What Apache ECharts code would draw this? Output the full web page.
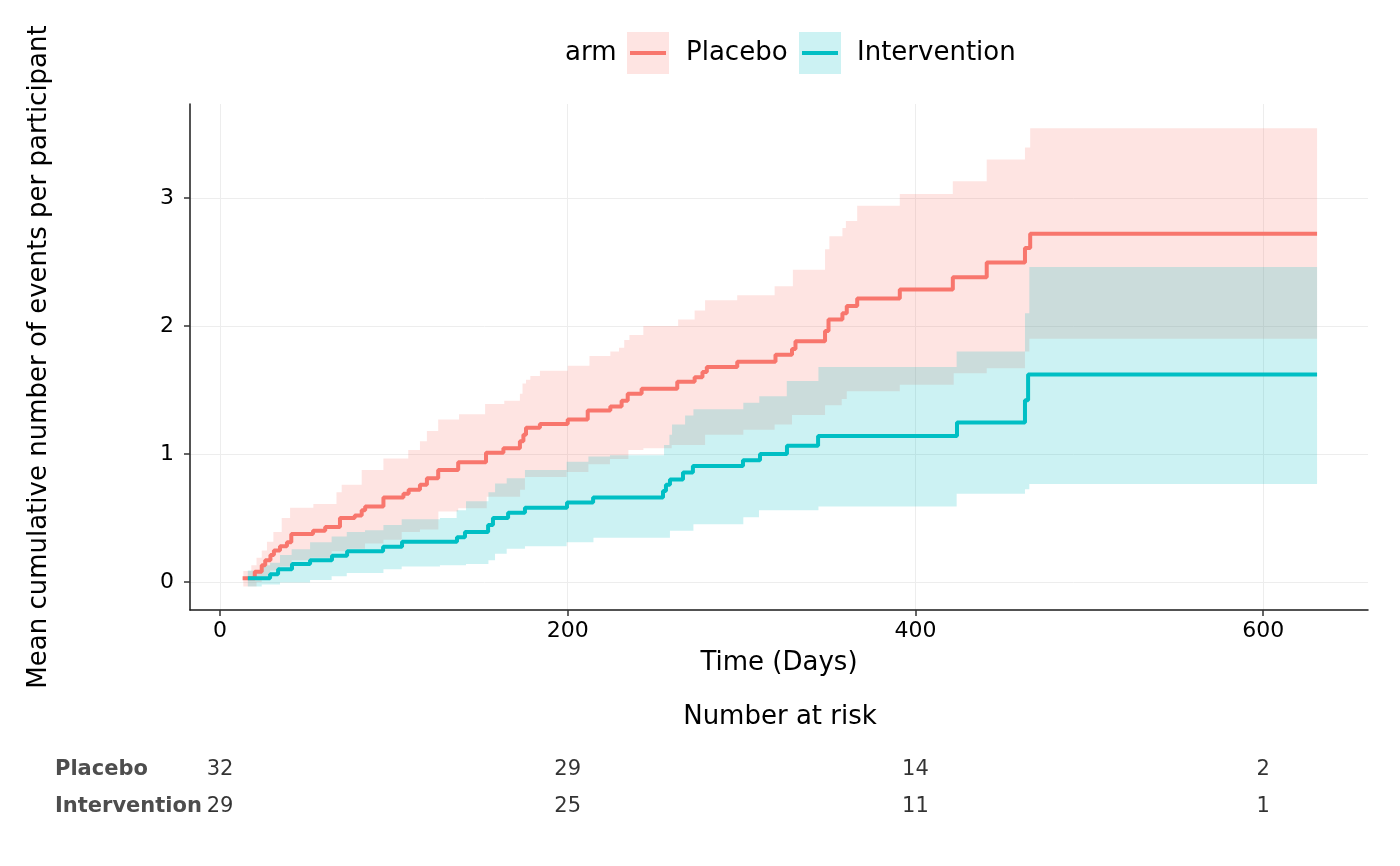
<!DOCTYPE html>
<html>
<head>
<meta charset="utf-8">
<script src="https://cdn.jsdelivr.net/npm/echarts@6/dist/echarts.min.js"></script>
<style>
html,body{margin:0;padding:0;background:#ffffff;}
#chart{width:1400px;height:866px;}
</style>
</head>
<body>
<div id="chart"></div>
<script>
// ---------- data ----------
const endTime = 631;

const placeboTime = [13,20,24,26,29,31,34.5,38.5,41,53.5,60.5,69,77.5,81.5,83.5,94,105.5,108.5,115,119,125.5,137,153,163,172.5,174.5,176,184,200,211.5,224.5,231,234.5,242.5,263,273,277.5,280,297.5,319.5,329,331,348,350,358,360.5,366.5,391,421.5,441,463,466];
const placeboMean = [0.03,0.08,0.13,0.17,0.21,0.245,0.28,0.31,0.375,0.40,0.43,0.50,0.52,0.56,0.59,0.66,0.69,0.72,0.76,0.81,0.875,0.935,1.01,1.045,1.10,1.15,1.205,1.235,1.27,1.34,1.37,1.415,1.47,1.51,1.565,1.60,1.64,1.68,1.72,1.775,1.82,1.88,1.96,2.05,2.10,2.155,2.215,2.285,2.38,2.495,2.61,2.72];

const placeboUpperTime = [13.4,18,21,24,27,30.7,35.5,40.3,53.7,67,70,81.5,94,108.3,115,119,125.5,137.5,152.5,163.5,172.5,174,176,178.5,184,200,212.5,224.5,229.5,232.5,235.5,243.5,263.5,273,279,297.5,319,329.5,348,350.5,358,360,366.5,391,421.5,441,463,466];
const placeboUpper = [0.085,0.13,0.19,0.245,0.315,0.39,0.50,0.58,0.61,0.70,0.76,0.875,0.965,1.03,1.10,1.18,1.27,1.31,1.39,1.415,1.47,1.55,1.58,1.61,1.65,1.69,1.765,1.80,1.83,1.89,1.93,2.0,2.05,2.12,2.20,2.24,2.31,2.44,2.60,2.70,2.765,2.82,2.94,3.03,3.13,3.30,3.395,3.545];

const placeboLowerTime = [13.4,21,24,28.8,34.5,41.2,51.8,64.2,72.9,83.4,94,104.5,115,125.6,137,153.4,172.6,175.4,199.4,211.9,224.3,234.9,243.5,259.8,279,301,319,329,348,357.6,360.5,391,422,441,463,465.5];
const placeboLower = [-0.035,0.0,0.04,0.09,0.12,0.17,0.19,0.24,0.26,0.30,0.33,0.39,0.41,0.55,0.575,0.665,0.72,0.82,0.86,0.92,0.96,1.03,1.045,1.07,1.15,1.19,1.23,1.305,1.38,1.43,1.49,1.54,1.63,1.67,1.80,1.90];

const interventionTime = [16,28.8,33.4,41.4,51.8,64.4,73.1,93.8,104.7,136.3,140.9,154.2,157,165.7,175.4,199.6,214.6,254.8,256.5,258.8,266.3,272,300.8,310.6,326.1,344,423.9,463,464.8];
const interventionMean = [0.03,0.06,0.10,0.14,0.17,0.205,0.24,0.275,0.315,0.35,0.39,0.445,0.50,0.54,0.58,0.62,0.66,0.71,0.76,0.80,0.855,0.905,0.95,1.0,1.065,1.14,1.245,1.42,1.62];

const interventionUpperTime = [16,24,28.8,34.5,41.2,51.8,64.2,72.9,83.4,94,104.5,126.5,136.1,141.5,154.4,158.2,164.9,175.4,199.4,211.9,224.3,255.4,258.5,260,267.5,272.3,301,310.2,326,344.2,423.7,463,465.5];
const interventionUpper = [0.09,0.13,0.15,0.21,0.255,0.31,0.355,0.39,0.405,0.445,0.49,0.50,0.56,0.63,0.70,0.77,0.81,0.875,0.94,0.98,0.99,1.07,1.15,1.23,1.30,1.35,1.40,1.45,1.57,1.68,1.80,2.10,2.46];

const interventionLowerTime = [16,24,34.5,51.8,64.2,72.9,94,104.5,126.5,141.5,154.4,158.2,164.9,175.4,199.4,214.8,258.8,272.3,301,310,344.2,423.7,463,465.5];
const interventionLower = [-0.035,-0.02,-0.005,0.015,0.045,0.07,0.10,0.12,0.13,0.14,0.17,0.22,0.26,0.28,0.31,0.345,0.40,0.45,0.505,0.56,0.59,0.69,0.725,0.765];

const xTicks = [0,200,400,600];
const yTicks = [0,1,2,3];
const armNames = ['Placebo','Intervention'];
const riskTimes = [0,200,400,600];
const riskPlacebo = [32,29,14,2];
const riskIntervention = [29,25,11,1];

// ---------- helpers ----------
const RED = '#F8766D', CYAN = '#00BFC4';
const RED_FILL = 'rgba(248,118,109,0.2)', CYAN_FILL = 'rgba(0,191,196,0.2)';
const FONT = 'DejaVu Sans';

function stepData(t, v) {
  const d = t.map((x, i) => [x, v[i]]);
  d.push([endTime, v[v.length - 1]]);
  return d;
}

function bandSeries(name, upT, upV, loT, loV, fill) {
  return {
    type: 'custom', name: name, z: 1, silent: true, clip: true,
    xAxisIndex: 0, yAxisIndex: 0,
    data: [[upT[0], upV[0]]],
    renderItem: function (params, api) {
      const pts = [];
      for (let i = 0; i < upT.length; i++) {
        const x1 = i + 1 < upT.length ? upT[i + 1] : endTime;
        pts.push(api.coord([upT[i], upV[i]]));
        pts.push(api.coord([x1, upV[i]]));
      }
      for (let i = loT.length - 1; i >= 0; i--) {
        const x1 = i + 1 < loT.length ? loT[i + 1] : endTime;
        pts.push(api.coord([x1, loV[i]]));
        pts.push(api.coord([loT[i], loV[i]]));
      }
      return { type: 'polygon', shape: { points: pts }, style: { fill: fill } };
    }
  };
}

const riskData = [];
riskTimes.forEach((t, i) => {
  riskData.push([t, 'Placebo', riskPlacebo[i]]);
  riskData.push([t, 'Intervention', riskIntervention[i]]);
});

// ---------- chart ----------
const chart = echarts.init(document.getElementById('chart'), null, { renderer: 'canvas' });

const option = {
  animation: false,
  backgroundColor: '#ffffff',
  textStyle: { fontFamily: FONT },
  grid: [
    { left: 190, right: 32, top: 104, bottom: 256, containLabel: false },
    { left: 190, right: 32, top: 751.5, height: 74, containLabel: false }
  ],
  xAxis: [
    {
      type: 'value', gridIndex: 0, min: -17.26, max: 660.3,
      name: 'Time (Days)', nameLocation: 'middle', nameGap: 40,
      nameTextStyle: { fontSize: 26, color: '#000', fontFamily: FONT },
      axisLine: { show: true, onZero: false, lineStyle: { color: '#1a1a1a', width: 1.5 } },
      axisTick: { show: true, length: 6, customValues: xTicks, lineStyle: { color: '#333', width: 1.5 } },
      axisLabel: { customValues: xTicks, fontSize: 22, color: '#000', margin: 10, fontFamily: FONT },
      splitLine: { show: true, lineStyle: { color: '#EDEDED', width: 1 } }
    },
    {
      type: 'value', gridIndex: 1, min: -17.26, max: 660.3, show: false
    }
  ],
  yAxis: [
    {
      type: 'value', gridIndex: 0, min: -0.219, max: 3.734,
      name: 'Mean cumulative number of events per participant',
      nameLocation: 'middle', nameGap: 138,
      nameTextStyle: { fontSize: 26, color: '#000', fontFamily: FONT },
      axisLine: { show: true, onZero: false, lineStyle: { color: '#1a1a1a', width: 1.5 } },
      axisTick: { show: true, length: 6, customValues: yTicks, lineStyle: { color: '#333', width: 1.5 } },
      axisLabel: { customValues: yTicks, fontSize: 22, color: '#000', margin: 16, fontFamily: FONT },
      splitLine: { show: true, lineStyle: { color: '#EDEDED', width: 1 } }
    },
    {
      type: 'category', gridIndex: 1, inverse: true, data: armNames,
      axisLine: { show: false }, axisTick: { show: false },
      axisLabel: { show: true, align: 'left', margin: 135, fontSize: 21, fontWeight: 'bold', color: '#4D4D4D', fontFamily: FONT },
      splitLine: { show: false }
    }
  ],
  graphic: [
    { type: 'text', x: 565, y: 53, style: { text: 'arm', font: '26px "DejaVu Sans"', fill: '#000', verticalAlign: 'middle' } },
    { type: 'rect', shape: { x: 627, y: 32, width: 42, height: 42 }, style: { fill: RED_FILL } },
    { type: 'line', shape: { x1: 630, y1: 53, x2: 666, y2: 53 }, style: { stroke: RED, lineWidth: 4 } },
    { type: 'text', x: 686, y: 53, style: { text: 'Placebo', font: '26px "DejaVu Sans"', fill: '#000', verticalAlign: 'middle' } },
    { type: 'rect', shape: { x: 799, y: 32, width: 42, height: 42 }, style: { fill: CYAN_FILL } },
    { type: 'line', shape: { x1: 802, y1: 53, x2: 838, y2: 53 }, style: { stroke: CYAN, lineWidth: 4 } },
    { type: 'text', x: 857, y: 53, style: { text: 'Intervention', font: '26px "DejaVu Sans"', fill: '#000', verticalAlign: 'middle' } },
    { type: 'text', x: 780, y: 717, style: { text: 'Number at risk', font: '26px "DejaVu Sans"', fill: '#000', align: 'center', verticalAlign: 'middle' } }
  ],
  series: [
    bandSeries('Placebo CI', placeboUpperTime, placeboUpper, placeboLowerTime, placeboLower, RED_FILL),
    bandSeries('Intervention CI', interventionUpperTime, interventionUpper, interventionLowerTime, interventionLower, CYAN_FILL),
    {
      type: 'line', name: 'Placebo', step: 'end', xAxisIndex: 0, yAxisIndex: 0, z: 3,
      showSymbol: false, symbol: 'none', data: stepData(placeboTime, placeboMean),
      lineStyle: { color: RED, width: 4 }, itemStyle: { color: RED }
    },
    {
      type: 'line', name: 'Intervention', step: 'end', xAxisIndex: 0, yAxisIndex: 0, z: 3,
      showSymbol: false, symbol: 'none', data: stepData(interventionTime, interventionMean),
      lineStyle: { color: CYAN, width: 4 }, itemStyle: { color: CYAN }
    },
    {
      type: 'scatter', name: 'Number at risk', xAxisIndex: 1, yAxisIndex: 1,
      symbolSize: 0, silent: true,
      data: riskData,
      label: {
        show: true, position: 'inside', formatter: p => String(p.value[2]),
        fontSize: 21, color: '#000', fontFamily: FONT
      }
    }
  ]
};

chart.setOption(option);
</script>
</body>
</html>
